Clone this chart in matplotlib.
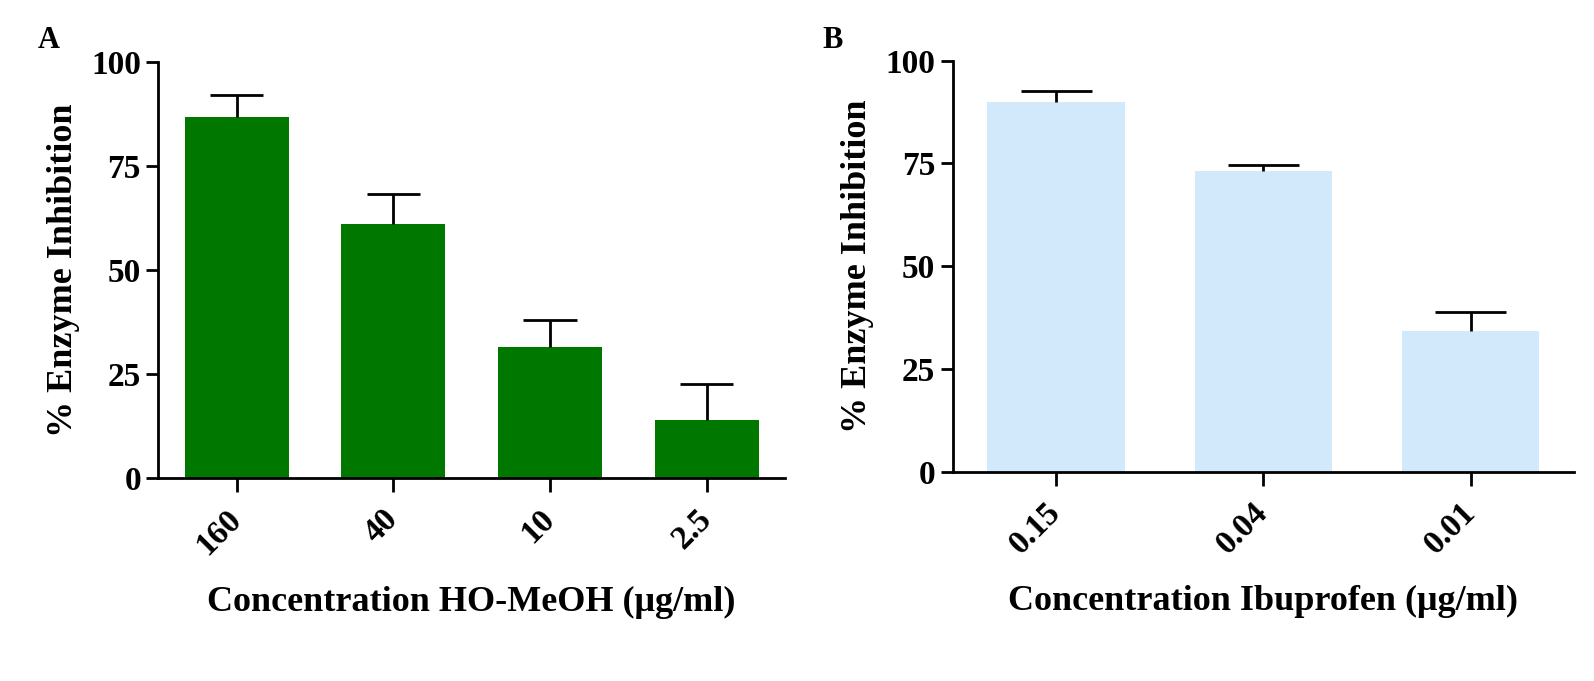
import matplotlib
matplotlib.use("Agg")
import matplotlib.pyplot as plt

plt.rcParams["font.family"] = "Liberation Serif"
plt.rcParams["font.weight"] = "bold"

# panel A: HO-MeOH extract
conc_a = ["160", "40", "10", "2.5"]
inhib_a = [86.9, 61.1, 31.6, 13.9]
err_a = [5.2, 7.2, 6.5, 8.8]

# panel B: ibuprofen
conc_b = ["0.15", "0.04", "0.01"]
inhib_b = [90.0, 73.2, 34.3]
err_b = [2.7, 1.4, 4.5]

fig = plt.figure(figsize=(15.94, 6.81), dpi=100)
ax_a = fig.add_axes([0.0993, 0.2977, 0.3932, 0.6109])
ax_b = fig.add_axes([0.5977, 0.3073, 0.3898, 0.6035])


def panel(ax, labels, vals, errs, color, xlabel):
    x = list(range(len(labels)))
    tops = [v + e for v, e in zip(vals, errs)]
    ax.bar(x, vals, width=0.665, color=color, zorder=2)
    # upper error bars only
    ax.vlines(x, vals, tops, color="black", lw=2, zorder=3)
    ax.hlines(tops, [i - 0.17 for i in x], [i + 0.17 for i in x],
              color="black", lw=2, zorder=3)
    ax.set_ylim(0, 100)
    ax.set_xlim(-0.5, len(labels) - 0.5)
    ax.set_yticks([0, 25, 50, 75, 100])
    ax.set_xticks(x)
    ax.set_xticklabels(labels, rotation=45, ha="right", va="center",
                       rotation_mode="anchor")
    ax.tick_params(axis="both", labelsize=24, width=2, direction="out")
    ax.tick_params(axis="y", length=9)
    ax.tick_params(axis="x", length=10, pad=16)
    for s in ["top", "right"]:
        ax.spines[s].set_visible(False)
    for s in ["left", "bottom"]:
        ax.spines[s].set_linewidth(2)
    ax.set_ylabel("% Enzyme Inhibition", fontsize=26, fontweight="bold", labelpad=8)
    ax.set_xlabel(xlabel, fontsize=26, fontweight="bold", labelpad=18)


panel(ax_a, conc_a, inhib_a, err_a, "#007800",
      "Concentration HO-MeOH (\u03bcg/ml)")
panel(ax_b, conc_b, inhib_b, err_b, "#d2e8fb",
      "Concentration Ibuprofen (\u03bcg/ml)")

fig.text(38 / 1594, 1 - 40 / 681, "A", fontsize=22, fontweight="bold",
         ha="left", va="center")
fig.text(822 / 1594, 1 - 40 / 681, "B", fontsize=22, fontweight="bold",
         ha="left", va="center")

fig.savefig("out.png", dpi=100, facecolor="white")
